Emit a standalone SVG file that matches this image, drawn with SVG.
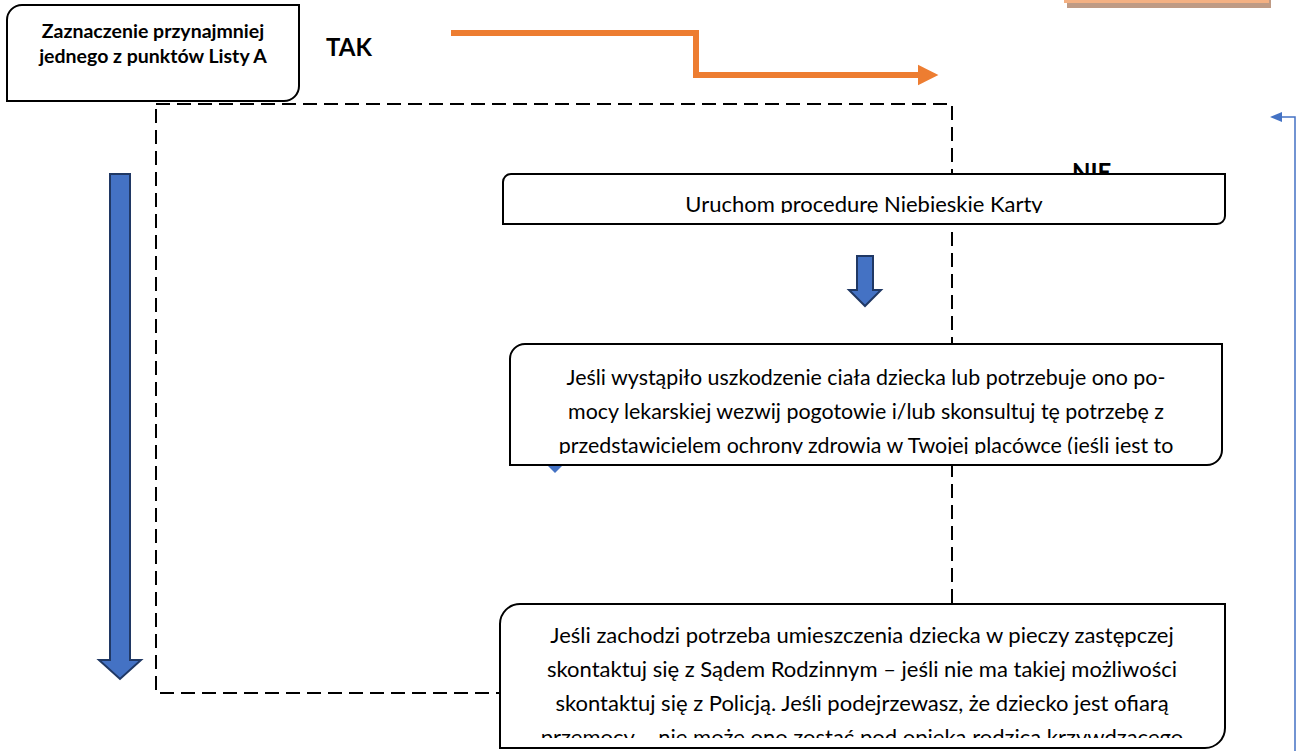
<svg xmlns="http://www.w3.org/2000/svg" width="1302" height="751" viewBox="0 0 1302 751">
<style>
.box{fill:#fff;stroke:#000;stroke-width:2}
.t{font-family:Lato,"Liberation Sans",sans-serif;fill:#000;text-anchor:middle}
.b{font-weight:bold}
.dash{fill:none;stroke:#000;stroke-width:2;stroke-dasharray:14 7}
.barrow{fill:#4472C4;stroke:#203864;stroke-width:2}
</style>
<defs>
<clipPath id="c1"><rect x="504" y="175" width="720" height="38"/></clipPath>
<clipPath id="c2"><rect x="511" y="345" width="710" height="109"/></clipPath>
<clipPath id="c3"><rect x="501" y="605" width="723" height="133"/></clipPath>
<marker id="mo" markerWidth="4" markerHeight="4" refX="0.5" refY="2" orient="auto" markerUnits="strokeWidth"><path d="M0,0.3 L3.4,2 L0,3.7 Z" fill="#ED7D31"/></marker>
<marker id="mb" markerWidth="12" markerHeight="10" refX="1" refY="5" orient="auto" markerUnits="userSpaceOnUse"><path d="M0,0 L12,5 L0,10 Z" fill="#4472C4"/></marker>
</defs>

<g id="top-right-shape">
<rect x="1067" y="-20" width="204" height="28" fill="#BF9B85"/>
<rect x="1064" y="-20" width="205" height="23" fill="#F4B183"/>
</g>

<g id="frame">
<rect class="dash" x="156" y="104" width="796" height="589"/>
</g>

<g id="connectors">
<path d="M451,33 H696 V75 H921" fill="none" stroke="#ED7D31" stroke-width="6" marker-end="url(#mo)"/>
<path d="M1295,751 V117 H1281" fill="none" stroke="#4472C4" stroke-width="1.5" marker-end="url(#mb)"/>
<path class="barrow" d="M110,174 H130 V660 H141 L120,679 L99,660 H110 Z"/>
<path class="barrow" d="M857,256 H873 V290 H881 L865,306 L849,290 H857 Z" stroke-width="1.5"/>
<path d="M547,465 H563 L555,473 Z" fill="#4472C4"/>
</g>

<g id="label-tak">
<text class="t b" x="326" y="56" font-size="24" style="text-anchor:start">TAK</text>
</g>
<g id="label-nie">
<text class="t b" x="1072" y="181" font-size="24" style="text-anchor:start">NIE</text>
</g>

<g id="node-start">
<path class="box" d="M22,5 H299 V86 A15,15 0 0 1 284,101 H7 V20 A15,15 0 0 1 22,5 Z"/>
<text class="t b" x="153" y="38" font-size="19.5">Zaznaczenie przynajmniej</text>
<text class="t b" x="153" y="63" font-size="19.5">jednego z punktów Listy A</text>
</g>

<g id="node-procedure">
<path class="box" d="M511,174 H1225 V216 A8,8 0 0 1 1217,224 H503 V182 A8,8 0 0 1 511,174 Z"/>
<g clip-path="url(#c1)">
<text class="t" x="864" y="212" font-size="22">Uruchom procedurę Niebieskie Karty</text>
</g>
</g>

<g id="node-medical">
<path class="box" d="M525,344 H1222 V450 A15,15 0 0 1 1207,465 H510 V359 A15,15 0 0 1 525,344 Z"/>
<g clip-path="url(#c2)">
<text class="t" x="866" y="385" font-size="21.4">Jeśli wystąpiło uszkodzenie ciała dziecka lub potrzebuje ono po-</text>
<text class="t" x="866" y="419" font-size="21.4">mocy lekarskiej wezwij pogotowie i/lub skonsultuj tę potrzebę z</text>
<text class="t" x="866" y="453" font-size="21.4">przedstawicielem ochrony zdrowia w Twojej placówce (jeśli jest to</text>
</g>
</g>

<g id="node-court">
<path class="box" d="M520,604 H1225 V728 A20,20 0 0 1 1205,748 H500 V624 A20,20 0 0 1 520,604 Z"/>
<g clip-path="url(#c3)">
<text class="t" x="862" y="643" font-size="22">Jeśli zachodzi potrzeba umieszczenia dziecka w pieczy zastępczej</text>
<text class="t" x="862" y="677" font-size="22">skontaktuj się z Sądem Rodzinnym – jeśli nie ma takiej możliwości</text>
<text class="t" x="862" y="711" font-size="22">skontaktuj się z Policją. Jeśli podejrzewasz, że dziecko jest ofiarą</text>
<text class="t" x="862" y="745" font-size="22">przemocy – nie może ono zostać pod opieką rodzica krzywdzącego</text>
</g>
</g>
</svg>
